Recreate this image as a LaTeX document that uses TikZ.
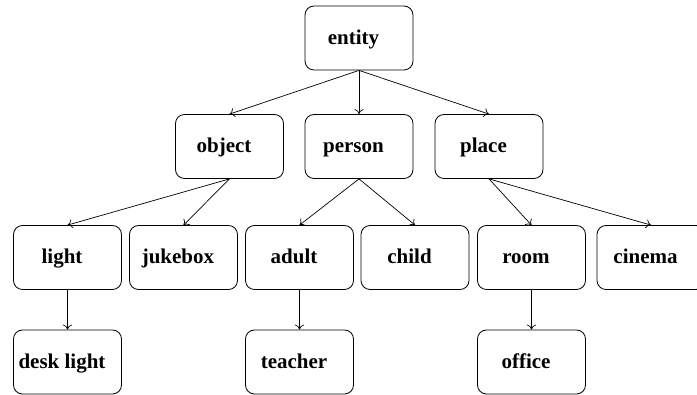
\documentclass[tikz,border=0pt]{standalone}
\usepackage{fontspec}
\setmainfont{Liberation Serif}
\usetikzlibrary{arrows.meta}
\begin{document}
\begin{tikzpicture}[x=1pt,y=-1pt,
  box/.style={draw, line width=0.8pt, rounded corners=9pt,
    minimum width=108pt, minimum height=64pt, inner sep=0pt,
    font=\fontsize{21}{23}\selectfont\bfseries,
    text height=16pt, text depth=3pt,
    execute at begin node=\hspace*{-11pt}},
  link/.style={draw, line width=0.7pt, -{To[length=5pt,width=9pt]}}]
\useasboundingbox (0,0) rectangle (697,395);
% root
\node[box] (entity) at (359,38) {entity};
% second level
\node[box] (object) at (229.5,146.5) {object};
\node[box] (person) at (359,146.5) {person};
\node[box] (place)  at (489,146.5) {place};
% third level
\node[box] (light)   at (67.5,257.5)  {light};
\node[box] (jukebox) at (183.5,257.5) {jukebox};
\node[box] (adult)   at (299.5,257.5) {adult};
\node[box] (child)   at (415,257.5)   {child};
\node[box] (room)    at (531.5,257.5) {room};
\node[box] (cinema)  at (651,257.5)   {cinema};
% fourth level
\node[box] (desklight) at (67.5,362)  {desk light};
\node[box] (teacher)   at (299.5,362) {teacher};
\node[box] (office)    at (531.5,362) {office};
% connectors
\foreach \p/\c in {entity/object, entity/person, entity/place,
                   object/light, object/jukebox,
                   person/adult, person/child,
                   place/room, place/cinema,
                   light/desklight, adult/teacher, room/office}
  \draw[link] (\p.south) -- (\c.north);
\end{tikzpicture}
\end{document}
